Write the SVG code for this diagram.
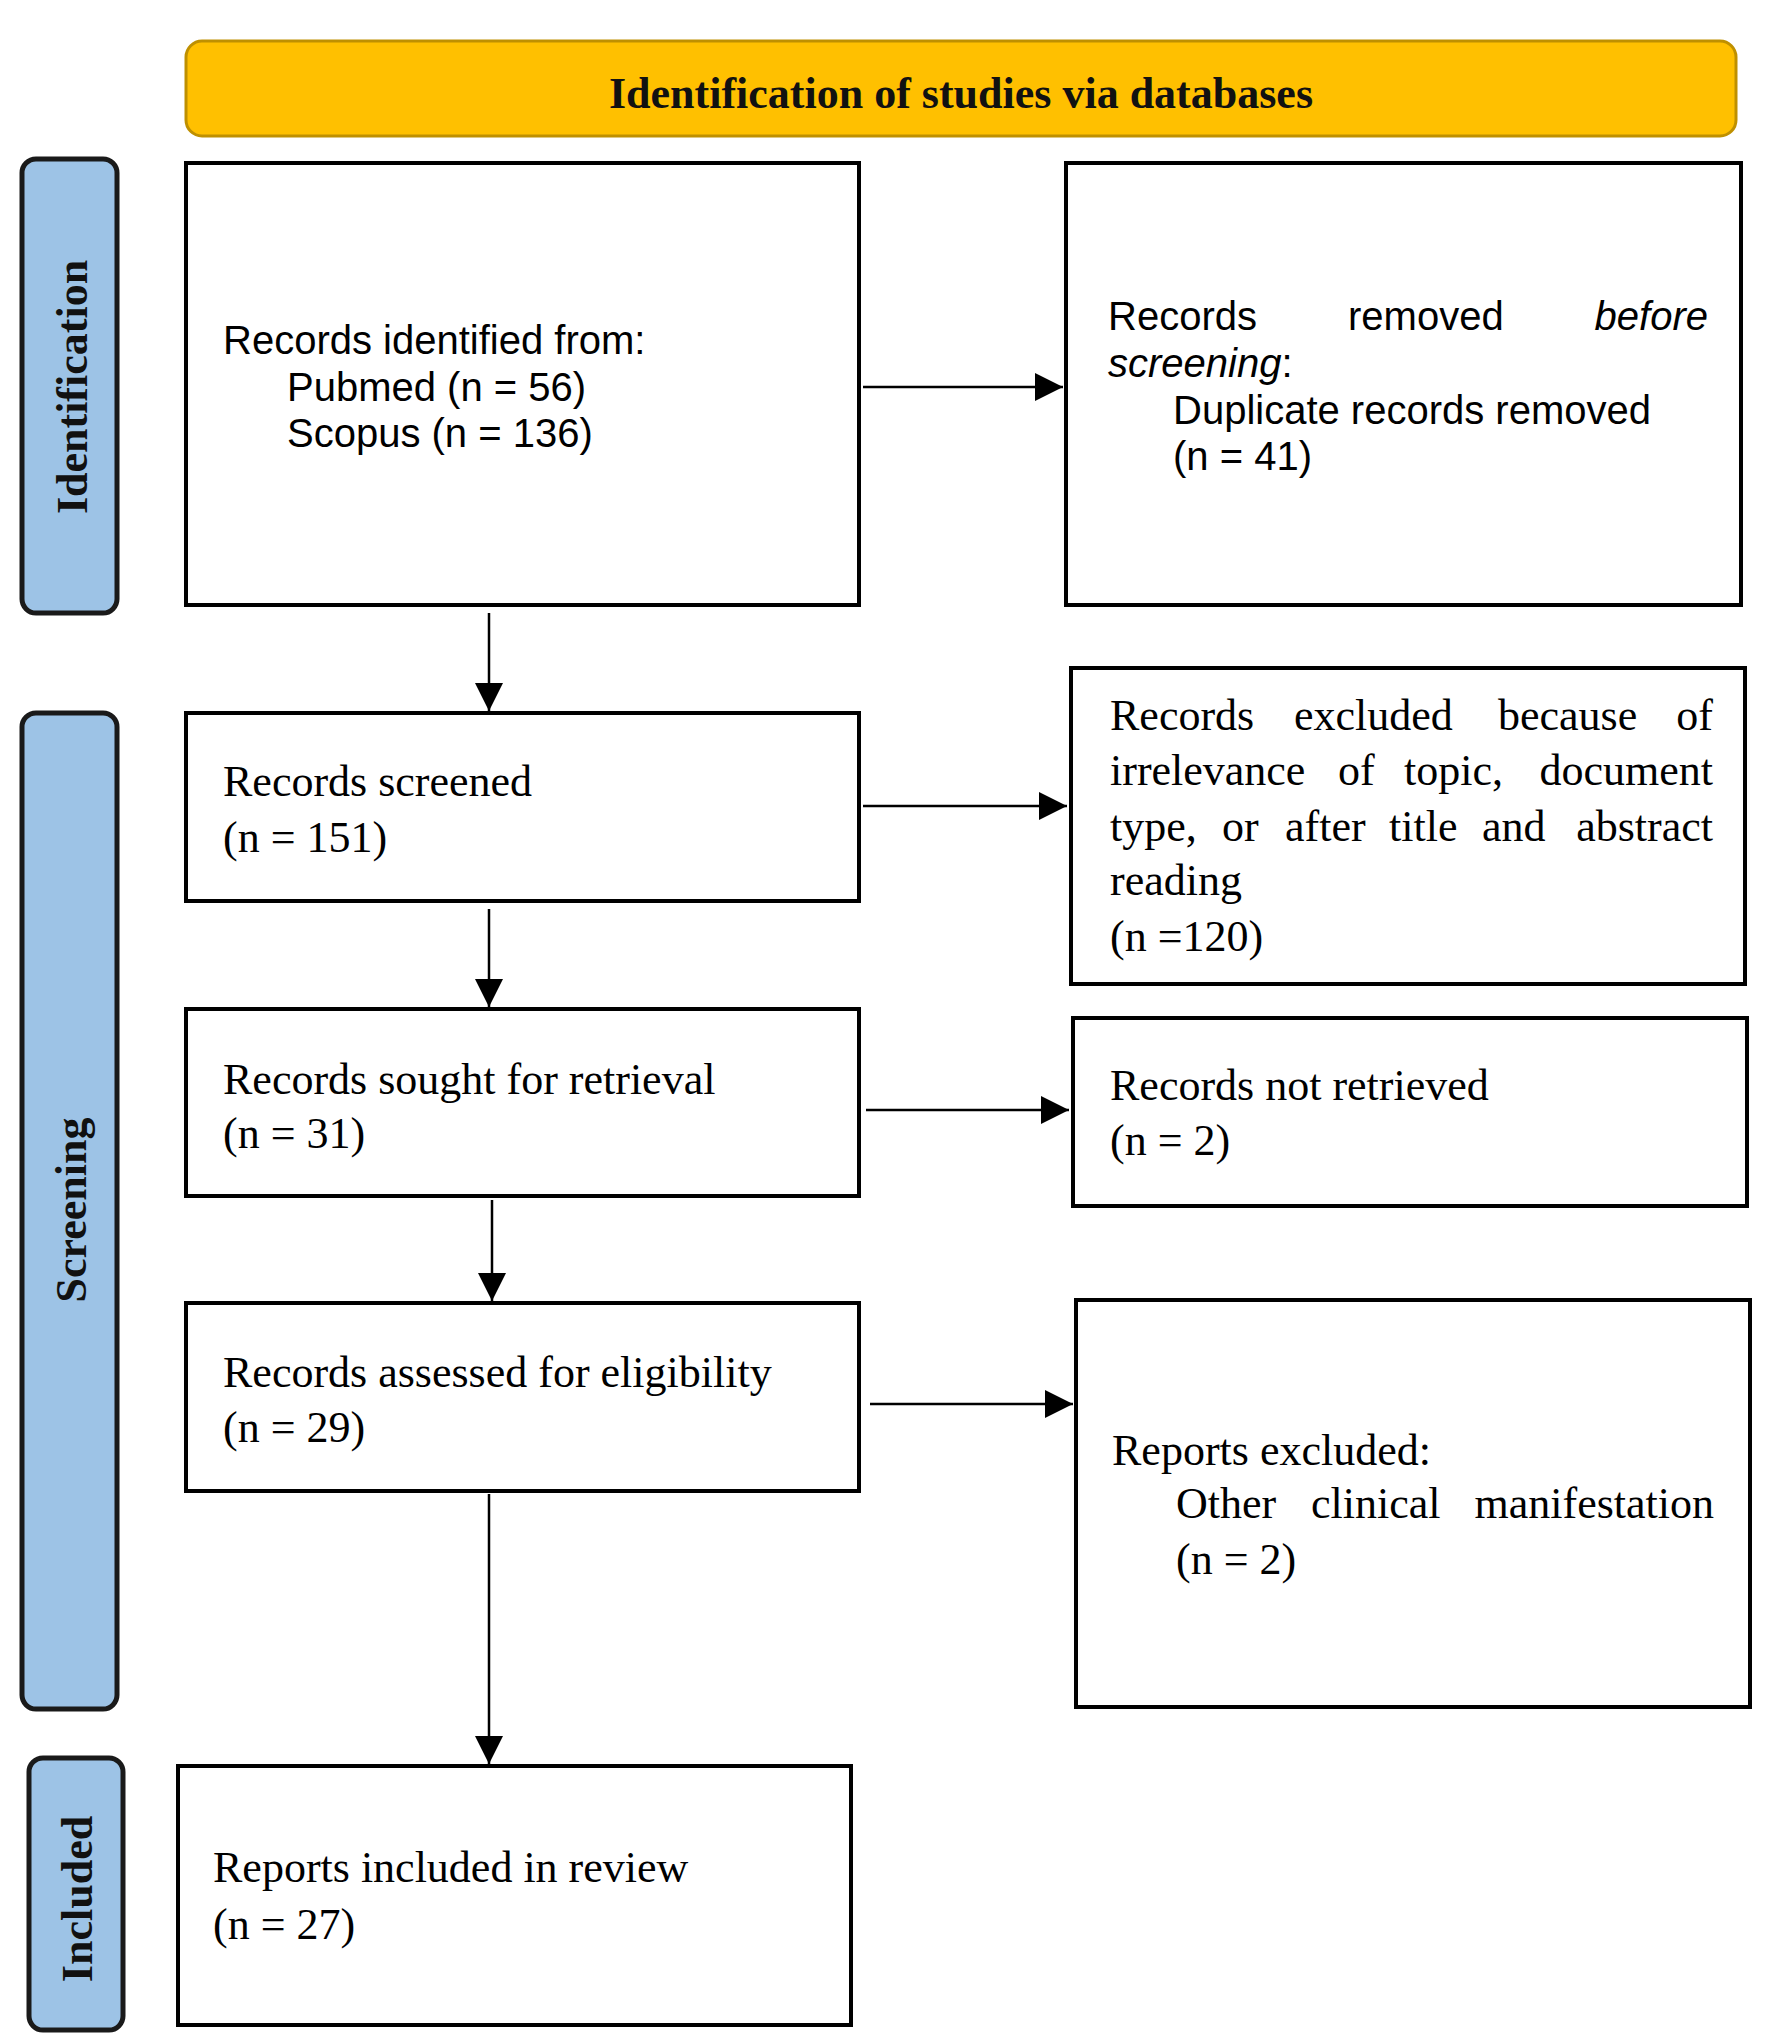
<svg xmlns="http://www.w3.org/2000/svg" width="1770" height="2043" viewBox="0 0 1770 2043">
<defs>
<style>
.box{fill:#fff;stroke:#000;stroke-width:4}
.side{fill:#9DC3E6;stroke:#1a1a1a;stroke-width:5}
.hdr{fill:#FFC000;stroke:#BF9000;stroke-width:3}
.lbl{font-family:"Liberation Serif","Times New Roman",serif;font-weight:bold;font-size:44px;fill:#111}
.sans{font-family:"Liberation Sans",Arial,sans-serif;font-size:40px;fill:#000}
.serif{font-family:"Liberation Serif","Times New Roman",serif;font-size:44px;fill:#000}
.it{font-style:italic}
.conn{stroke:#000;stroke-width:2.5;fill:none;marker-end:url(#arr)}
</style>
<marker id="arr" markerUnits="userSpaceOnUse" markerWidth="28" markerHeight="28" viewBox="0 0 26 26" refX="26" refY="13" orient="auto">
<path d="M0,0 L26,13 L0,26 Z" fill="#000"/>
</marker>
</defs>
<rect width="1770" height="2043" fill="#fff"/>

<g id="header">
<rect class="hdr" x="186" y="41" width="1550" height="95" rx="16"/>
<text class="lbl" x="961" y="108" text-anchor="middle">Identification of studies via databases</text>
</g>

<g id="phase-identification">
<rect class="side" x="22" y="159" width="95" height="454" rx="14"/>
<text class="lbl" transform="translate(87,387) rotate(-90)" text-anchor="middle">Identification</text>
</g>
<g id="phase-screening">
<rect class="side" x="22" y="713" width="95" height="996" rx="14"/>
<text class="lbl" transform="translate(86,1210) rotate(-90)" text-anchor="middle">Screening</text>
</g>
<g id="phase-included">
<rect class="side" x="29" y="1758" width="94" height="272" rx="14"/>
<text class="lbl" transform="translate(92,1899) rotate(-90)" text-anchor="middle">Included</text>
</g>

<g id="records-identified">
<rect class="box" x="186" y="163" width="673" height="442"/>
<text class="sans" x="223" y="354">Records identified from:</text>
<text class="sans" x="287" y="401">Pubmed (n = 56)</text>
<text class="sans" x="287" y="447">Scopus (n = 136)</text>
</g>

<g id="records-removed">
<rect class="box" x="1066" y="163" width="675" height="442"/>
<text class="sans" x="1108" y="330">Records</text>
<text class="sans" x="1348" y="330">removed</text>
<text class="sans it" x="1708" y="330" text-anchor="end">before</text>
<text class="sans" x="1108" y="377"><tspan class="it">screening</tspan>:</text>
<text class="sans" x="1173" y="424">Duplicate records removed</text>
<text class="sans" x="1173" y="470">(n = 41)</text>
</g>

<g id="records-screened">
<rect class="box" x="186" y="713" width="673" height="188"/>
<text class="serif" x="223" y="796">Records screened</text>
<text class="serif" x="223" y="852">(n = 151)</text>
</g>

<g id="records-excluded">
<rect class="box" x="1071" y="668" width="674" height="316"/>
<text class="serif" y="730"><tspan x="1110">Records</tspan><tspan x="1294">excluded</tspan><tspan x="1498">because</tspan></text>
<text class="serif" x="1713" y="730" text-anchor="end">of</text>
<text class="serif" y="785"><tspan x="1110">irrelevance</tspan><tspan x="1338">of</tspan><tspan x="1404">topic,</tspan></text>
<text class="serif" x="1713" y="785" text-anchor="end">document</text>
<text class="serif" y="841"><tspan x="1110">type,</tspan><tspan x="1222">or</tspan><tspan x="1285">after</tspan><tspan x="1389">title</tspan><tspan x="1482">and</tspan></text>
<text class="serif" x="1713" y="841" text-anchor="end">abstract</text>
<text class="serif" x="1110" y="895">reading</text>
<text class="serif" x="1110" y="951">(n =120)</text>
</g>

<g id="records-sought">
<rect class="box" x="186" y="1009" width="673" height="187"/>
<text class="serif" x="223" y="1094">Records sought for retrieval</text>
<text class="serif" x="223" y="1148">(n = 31)</text>
</g>

<g id="records-not-retrieved">
<rect class="box" x="1073" y="1018" width="674" height="188"/>
<text class="serif" x="1110" y="1100">Records not retrieved</text>
<text class="serif" x="1110" y="1155">(n = 2)</text>
</g>

<g id="records-assessed">
<rect class="box" x="186" y="1303" width="673" height="188"/>
<text class="serif" x="223" y="1387">Records assessed for eligibility</text>
<text class="serif" x="223" y="1442">(n = 29)</text>
</g>

<g id="reports-excluded">
<rect class="box" x="1076" y="1300" width="674" height="407"/>
<text class="serif" x="1112" y="1465">Reports excluded:</text>
<text class="serif" y="1518"><tspan x="1176">Other</tspan><tspan x="1311">clinical</tspan></text>
<text class="serif" x="1714" y="1518" text-anchor="end">manifestation</text>
<text class="serif" x="1176" y="1574">(n = 2)</text>
</g>

<g id="reports-included">
<rect class="box" x="178" y="1766" width="673" height="259"/>
<text class="serif" x="213" y="1882">Reports included in review</text>
<text class="serif" x="213" y="1939">(n = 27)</text>
</g>

<g id="connectors">
<line class="conn" x1="863" y1="387" x2="1063" y2="387"/>
<line class="conn" x1="489" y1="613" x2="489" y2="711"/>
<line class="conn" x1="863" y1="806" x2="1067" y2="806"/>
<line class="conn" x1="489" y1="909" x2="489" y2="1007"/>
<line class="conn" x1="866" y1="1110" x2="1069" y2="1110"/>
<line class="conn" x1="492" y1="1200" x2="492" y2="1301"/>
<line class="conn" x1="870" y1="1404" x2="1073" y2="1404"/>
<line class="conn" x1="489" y1="1494" x2="489" y2="1764"/>
</g>
</svg>
